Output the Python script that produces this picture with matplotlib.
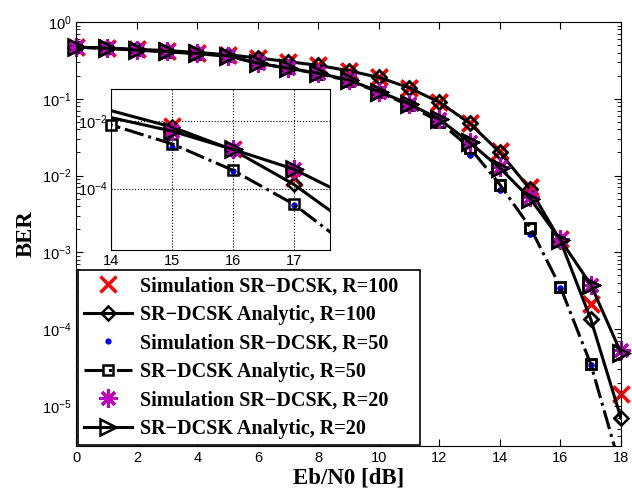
import numpy as np
import matplotlib
matplotlib.use('Agg')
import matplotlib.pyplot as plt

plt.rcParams['font.family'] = ['Liberation Sans', 'DejaVu Sans']
plt.rcParams['mathtext.fontset'] = 'custom'
plt.rcParams['mathtext.rm'] = 'Liberation Sans'

ebn0 = np.arange(0, 19)

# R=100
ber_r100_ana = [0.47, 0.46, 0.44, 0.425, 0.40, 0.375, 0.34, 0.305, 0.272, 0.232, 0.19,
                0.139, 0.09, 0.048, 0.020, 6.6e-3, 1.4e-3, 1.35e-4, 6.9e-6]
ber_r100_sim = [0.47, 0.46, 0.44, 0.425, 0.40, 0.375, 0.34, 0.305, 0.272, 0.232, 0.19,
                0.139, 0.09, 0.049, 0.021, 7.2e-3, 1.5e-3, 2.1e-4, 1.44e-5]
# R=50
ber_r50_ana = [0.47, 0.455, 0.43, 0.41, 0.385, 0.36, 0.29, 0.25, 0.212, 0.172, 0.122,
               0.082, 0.05, 0.023, 7.6e-3, 2.1e-3, 3.5e-4, 3.5e-5, 1.5e-6]
ber_r50_sim = [0.47, 0.455, 0.43, 0.41, 0.385, 0.36, 0.29, 0.25, 0.212, 0.172, 0.122,
               0.082, 0.05, 0.0185, 6.5e-3, 1.75e-3, 3.4e-4, 3.4e-5, np.nan]
# R=20
ber_r20_ana = [0.47, 0.455, 0.43, 0.415, 0.39, 0.365, 0.29, 0.25, 0.215, 0.176, 0.124,
               0.086, 0.054, 0.027, 0.0125, 5.0e-3, 1.45e-3, 3.8e-4, 4.9e-5]
ber_r20_sim = [0.47, 0.455, 0.43, 0.415, 0.39, 0.365, 0.29, 0.25, 0.215, 0.176, 0.124,
               0.086, 0.054, 0.027, 0.013, 5.2e-3, 1.5e-3, 3.8e-4, 5.3e-5]

labels = ['Simulation SR\u2212DCSK, R=100', 'SR\u2212DCSK Analytic, R=100',
          'Simulation SR\u2212DCSK, R=50', 'SR\u2212DCSK Analytic, R=50',
          'Simulation SR\u2212DCSK, R=20', 'SR\u2212DCSK Analytic, R=20']

magenta = '#c000c0'
asterisk = (8, 2, 0)
styles = [
    dict(ls='none', marker='x', color='red', ms=11, mew=2.5),
    dict(ls='-', marker='D', color='black', ms=7.5, mew=1.8, mfc='none', lw=2.2),
    dict(ls='none', marker='o', color='blue', ms=4.5, mew=0),
    dict(ls='-.', marker='s', color='black', ms=7.5, mew=1.8, mfc='none', lw=2.2),
    dict(ls='none', marker=asterisk, color=magenta, ms=13, mew=2.2),
    dict(ls='-', marker='>', color='black', ms=11, mew=1.8, mfc='none', lw=2.2),
]
series = [ber_r100_sim, ber_r100_ana, ber_r50_sim, ber_r50_ana, ber_r20_sim, ber_r20_ana]

ymin, ymax = 3e-6, 1

fig = plt.figure(figsize=(6.32, 4.96), dpi=100)
ax = fig.add_axes([0.121, 0.1008, 0.8616, 0.8548])

for y, st, lab in zip(series, styles, labels):
    ax.plot(ebn0, y, label=lab, **st)
    # markers sitting on the plot edges are not clipped
    yv = np.array(y, dtype=float)
    yv = np.where(yv >= ymin, yv, np.nan)
    mk = {k: v for k, v in st.items() if k not in ('ls', 'lw')}
    ax.plot(ebn0, yv, ls='none', clip_on=False, **mk)

ax.set_yscale('log')
ax.set_xlim(0, 18)
ax.set_ylim(ymin, ymax)
ax.set_xticks(range(0, 19, 2))
ax.tick_params(which='both', direction='in', top=True, right=True, labelsize=10.5)
ax.tick_params(which='major', length=5)
ax.tick_params(which='minor', length=3)
ax.set_xlabel('Eb/N0 [dB]', family='Liberation Serif', weight='bold', fontsize=16.5, labelpad=2)
ax.set_ylabel('BER', family='Liberation Serif', weight='bold', fontsize=16.5, labelpad=4)

leg = ax.legend(loc='lower left', bbox_to_anchor=(0.003, 0.003, 0.628, 0.3), mode='expand',
                borderaxespad=0,
                prop=dict(family='Liberation Serif', weight='bold', size=14.5),
                fancybox=False, edgecolor='black', framealpha=1, handlelength=2.4,
                handletextpad=0.35, labelspacing=0.42, borderpad=0.3)
leg.get_frame().set_linewidth(1.2)

# inset
axi = fig.add_axes([0.1764, 0.496, 0.3458, 0.3246])
inset_marks = [[15, 16, 17], [15, 16, 17], [15, 16, 17], [14, 15, 16, 17],
               [15, 16, 17], [15, 16, 17]]
for y, st, idx in zip(series, styles, inset_marks):
    if st['ls'] != 'none':
        axi.plot(ebn0, y, ls=st['ls'], lw=st['lw'], color='black')
    mk = {k: v for k, v in st.items() if k not in ('ls', 'lw')}
    axi.plot(ebn0[idx], np.array(y)[idx], ls='none', clip_on=False, **mk)
axi.set_yscale('log')
axi.set_xlim(14, 17.6)
axi.set_ylim(1.55e-6, 0.088)
axi.set_xticks([14, 15, 16, 17])
axi.set_yticks([1e-4, 1e-2])
axi.yaxis.set_minor_locator(matplotlib.ticker.NullLocator())
axi.grid(True, ls=':', color='black', lw=0.8)
axi.tick_params(direction='in', labelsize=10.5, length=0, pad=3)

fig.savefig('out.png', dpi=100)
